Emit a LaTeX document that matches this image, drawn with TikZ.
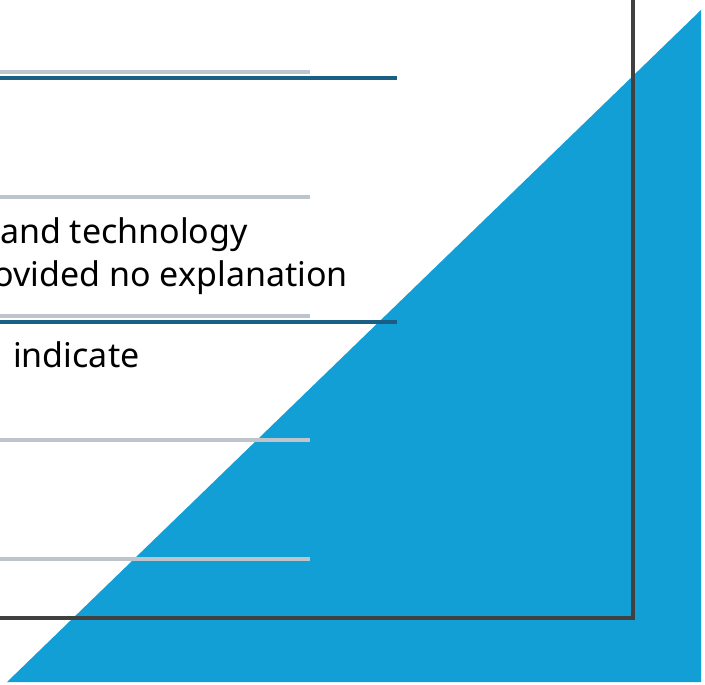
\documentclass[tikz,border=0pt]{standalone}
\usepackage{fontspec}
\setmainfont{Noto Sans}
\definecolor{skyblue}{HTML}{129FD6}
\definecolor{rulegrey}{HTML}{BEC4CC}
\definecolor{ruleblue}{HTML}{1B5E84}
\definecolor{framegrey}{HTML}{404040}
\tikzset{
  greyrule/.style={draw=rulegrey,line width=4pt},
  bluerule/.style={draw=ruleblue,line width=4pt},
  frameline/.style={draw=framegrey,line width=4pt,line join=miter},
  bodytext/.style={font=\fontsize{34}{40}\selectfont,inner sep=0pt,text=black}
}
\begin{document}
\begin{tikzpicture}[x=1pt,y=-1pt]
  \useasboundingbox (0,0) rectangle (705,685);
  \clip (0,0) rectangle (705,685);
  \fill [skyblue] (7,682) -- (701,10) -- (701,682) -- cycle;
  % rules
  \foreach \y in {72,197,316,440,559}
    \draw [greyrule] (-5,\y) -- (310,\y);
  \foreach \y in {78,322}
    \draw [bluerule] (-5,\y) -- (397,\y);
  % frame
  \draw [frameline] (633,-5) -- (633,618) -- (-5,618);
  % text
  \node [bodytext,anchor=base east] (tech) at (248,243) {and technology};
  \node [bodytext,anchor=base east] (expl) at (348,286) {ovided no explanation};
  \node [bodytext,anchor=base west] (indic) at (13,367) {indicate};
\end{tikzpicture}
\end{document}
